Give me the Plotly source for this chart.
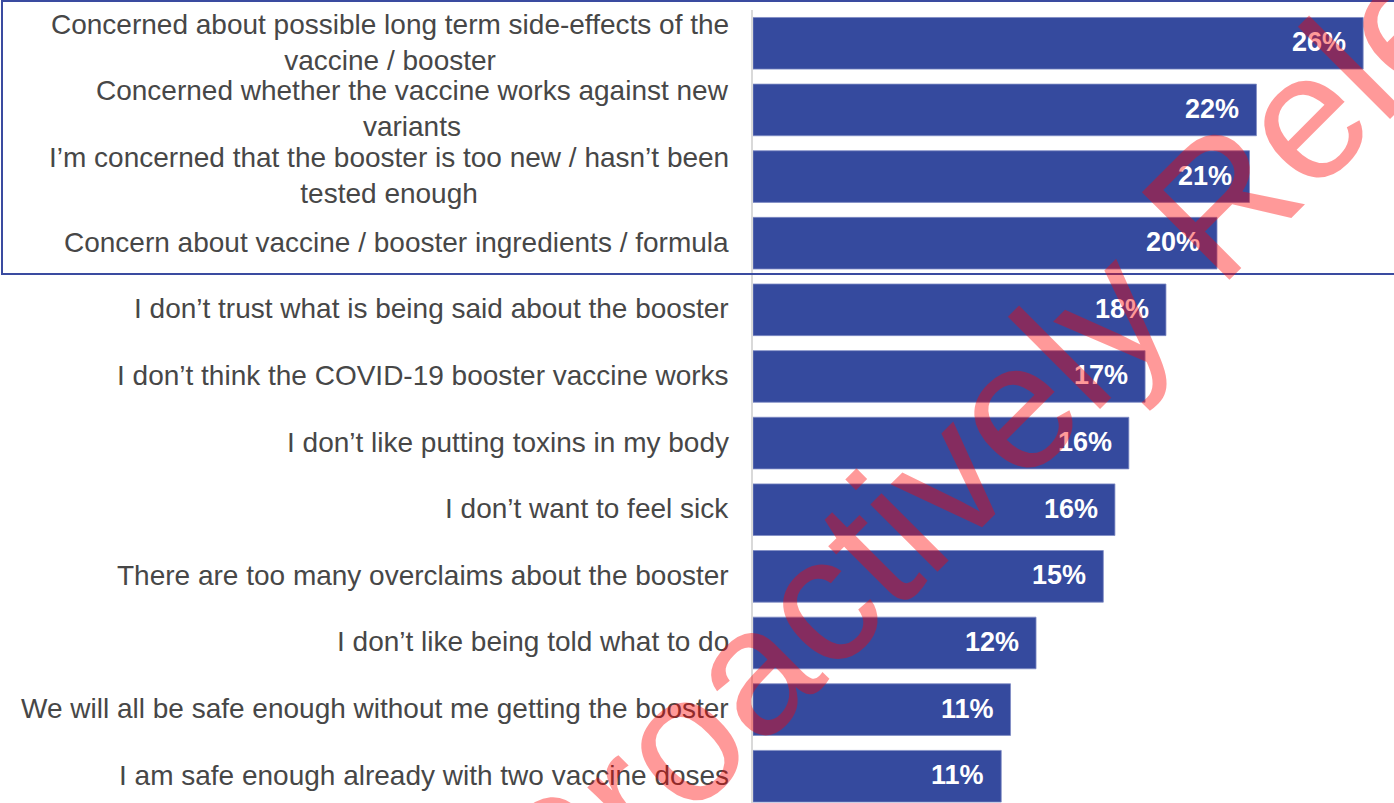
import plotly.graph_objects as go

# Reasons for not getting the COVID-19 booster (share of respondents, %)
reasons = [
    "Concerned about possible long term side-effects of the<br>vaccine / booster",
    "Concerned whether the vaccine works against new<br>variants",
    "I’m concerned that the booster is too new / hasn’t been<br>tested enough",
    "Concern about vaccine / booster ingredients / formula",
    "I don’t trust what is being said about the booster",
    "I don’t think the COVID-19 booster vaccine works",
    "I don’t like putting toxins in my body",
    "I don’t want to feel sick",
    "There are too many overclaims about the booster",
    "I don’t like being told what to do",
    "We will all be safe enough without me getting the booster",
    "I am safe enough already with two vaccine doses",
]
shares = [26.3, 21.7, 21.4, 20.0, 17.8, 16.9, 16.2, 15.6, 15.1, 12.2, 11.1, 10.7]

watermark_text = "Proactively Released"

W, H = 1394, 803
ML, MT = 753, 10
plot_w, plot_h = W - ML, H - MT
px_per_pct = 23.2
row_pitch = 66.63
first_row_center = 43.3

positions = list(range(len(reasons)))
y_top = -(first_row_center - MT) / row_pitch
y_bottom = y_top + plot_h / row_pitch

BAR_COLOR = "#354a9e"
LABEL_FONT = "Liberation Sans, Arial, sans-serif"

fig = go.Figure(
    go.Bar(
        x=shares,
        y=positions,
        orientation="h",
        marker=dict(color=BAR_COLOR, line=dict(color="#7f8cc4", width=0.8)),
        width=0.775,
        hoverinfo="skip",
    )
)

annotations = []
# category labels, right-aligned against the axis, lines centred
for pos, text in zip(positions, reasons):
    annotations.append(dict(
        x=0, xref="paper", y=pos, yref="y",
        xanchor="right", yanchor="middle", xshift=-22, yshift=1,
        text=text, showarrow=False, align="center",
        font=dict(family=LABEL_FONT, size=28, color="#474747"),
    ))
# value labels inside the bar ends
for pos, val in zip(positions, shares):
    annotations.append(dict(
        x=val, xref="x", y=pos, yref="y",
        xanchor="right", yanchor="middle", xshift=-15, yshift=1,
        text=f"{val:.0f}%", showarrow=False,
        font=dict(family=LABEL_FONT, size=27, color="white", weight="bold"),
    ))

# diagonal release stamp
annotations.append(dict(
    x=(1114 - ML) / plot_w, xref="paper",
    y=(H - 306) / plot_h, yref="paper",
    xanchor="center", yanchor="middle",
    text=watermark_text, showarrow=False, textangle=-45,
    font=dict(family=LABEL_FONT, size=180, color="rgba(255,0,0,0.4)"),
))

fig.update_layout(
    width=W, height=H,
    margin=dict(l=ML, r=0, t=MT, b=0, pad=0),
    paper_bgcolor="white", plot_bgcolor="white",
    showlegend=False,
    xaxis=dict(range=[0, plot_w / px_per_pct], visible=False, fixedrange=True),
    yaxis=dict(
        range=[y_bottom, y_top], showticklabels=False, ticks="",
        showgrid=False, zeroline=False,
        showline=True, linecolor="#d9d9d9", linewidth=2, fixedrange=True,
    ),
    annotations=annotations,
    shapes=[dict(
        type="rect", xref="paper", yref="paper",
        x0=(2 - ML) / plot_w, x1=(W + 4 - ML) / plot_w,
        y0=(H - 274) / plot_h, y1=(H - 1) / plot_h,
        line=dict(color="#3a4ba0", width=2), layer="above",
    )],
)

fig.write_html("out.html", config={"displayModeBar": False})
